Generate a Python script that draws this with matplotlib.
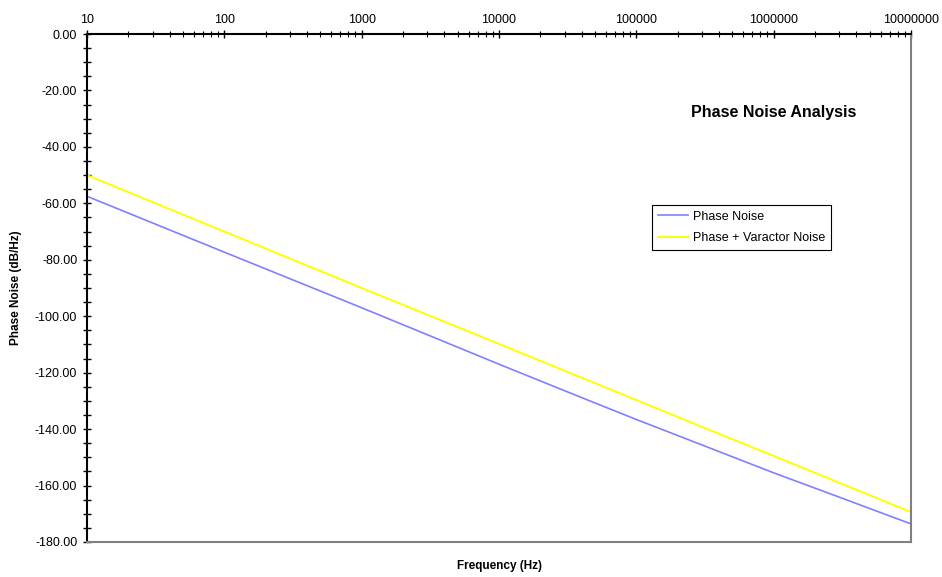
import matplotlib
matplotlib.use("Agg")
import matplotlib.pyplot as plt
from matplotlib.ticker import LogLocator, FixedLocator, FuncFormatter, MultipleLocator, NullFormatter

plt.rcParams['font.family'] = ['Liberation Sans', 'DejaVu Sans']

freq = [10, 100, 1000, 10000, 30000, 100000, 300000, 1000000, 3000000, 10000000]
phase_noise = [-57.5, -77.3, -97.0, -117.0, -126.4, -136.6, -145.6, -155.5, -164.1, -173.6]
phase_varactor = [-50.0, -70.0, -90.0, -109.8, -119.3, -129.7, -139.2, -149.5, -159.0, -169.4]
xtick_labels = ["10", "100", "1000", "10000", "100000", "1000000", "10000000"]

fig = plt.figure(figsize=(9.42, 5.77), dpi=100)
ax = fig.add_axes([0.0924, 0.0607, 0.8747, 0.8803])

ax.plot(freq, phase_noise, color='#8080FF', lw=1.2, label='Phase Noise')
ax.plot(freq, phase_varactor, color='#FFFF00', lw=1.4, label='Phase + Varactor Noise')

ax.set_xscale('log')
ax.set_xlim(10, 1e7)
ax.set_ylim(-180, 0)

ax.xaxis.tick_top()
ax.xaxis.set_major_locator(FixedLocator([10**i for i in range(1, 8)]))
ax.set_xticklabels(xtick_labels)
ax.xaxis.set_minor_locator(LogLocator(base=10, subs=range(2, 10), numticks=20))
ax.xaxis.set_minor_formatter(NullFormatter())

ax.yaxis.set_major_locator(MultipleLocator(20))
ax.yaxis.set_minor_locator(MultipleLocator(5))
ax.yaxis.set_major_formatter(FuncFormatter(lambda v, p: "%.2f" % v))

ax.tick_params(which='major', direction='inout', width=1.0, labelsize=9, colors='black', pad=4)
ax.tick_params(axis='x', which='major', length=5.5, pad=3)
ax.tick_params(axis='x', which='minor', direction='inout', length=4, width=0.8)
ax.tick_params(axis='y', which='major', length=6)
ax.tick_params(axis='y', which='minor', direction='inout', length=5.5, width=1.0)
ax.tick_params(axis='x', which='both', top=True, bottom=False)

for s in ['top', 'left']:
    ax.spines[s].set_color('black')
    ax.spines[s].set_linewidth(1.5)
for s in ['right', 'bottom']:
    ax.spines[s].set_color('#808080')
    ax.spines[s].set_linewidth(1.5)

ax.set_xlabel('Frequency (Hz)', fontsize=8.5, fontweight='bold', labelpad=13)
ax.xaxis.set_label_position('bottom')
ax.set_ylabel('Phase Noise (dB/Hz)', fontsize=8.5, fontweight='bold', labelpad=9)

ax.text(0.833, 0.845, 'Phase Noise Analysis', transform=ax.transAxes, ha='center', va='center',
        fontsize=11.5, fontweight='bold')

leg = ax.legend(loc='upper left', bbox_to_anchor=(0.686, 0.663), fontsize=9, frameon=True,
                fancybox=False, edgecolor='black', framealpha=1, borderpad=0.45,
                handlelength=2.4, handletextpad=0.4, labelspacing=0.75, borderaxespad=0)
leg.get_frame().set_linewidth(0.8)

fig.savefig('out.png', dpi=100)
